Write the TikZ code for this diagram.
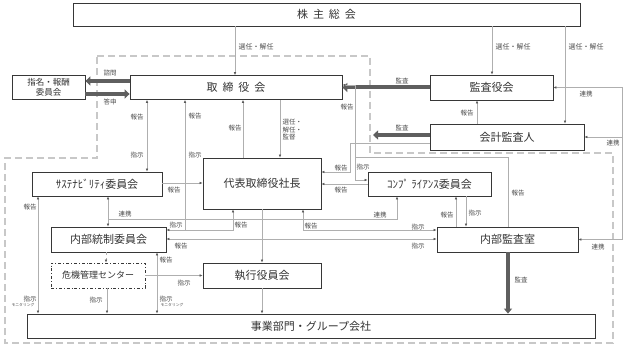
\documentclass[tikz,border=0pt]{standalone}
\usepackage{fontspec}
\setmainfont{Noto Sans CJK JP}
\usetikzlibrary{arrows.meta}
\definecolor{linegray}{RGB}{175,175,175}
\definecolor{framegray}{RGB}{200,200,200}
\definecolor{boxline}{RGB}{55,55,55}
\definecolor{thickgray}{RGB}{95,95,95}

\begin{document}
\begin{tikzpicture}[
    x=1pt, y=-1pt,
    >={Latex[length=3pt,width=2.6pt,color=black!65]},
    box/.style={
        draw=boxline,
        line width=0.8pt,
        fill=white,
        inner sep=0pt,
        align=center,
        text=black!80,
        font=\fontsize{11}{12}\selectfont
    },
    conn/.style={draw=linegray, line width=0.55pt},
    auditarrow/.style={
        draw=thickgray,
        line width=4pt,
        -{Triangle[length=5pt,width=9pt,color=thickgray]}
    },
    lbl/.style={inner sep=0.5pt, text=black!70, font=\fontsize{6.5}{7.5}\selectfont},
    tiny/.style={inner sep=0pt, text=black!70, font=\fontsize{3.8}{4.5}\selectfont}
]
\useasboundingbox (0,0) rectangle (624,347);

% Dashed frame
\draw[framegray, line width=2.6pt, dash pattern=on 7pt off 4pt]
    (97,56) -- (370,56) -- (370,153) -- (613,153) -- (613,343)
    -- (5,343) -- (5,158) -- (97,158) -- cycle;

% Boxes
\node[box, minimum width=507pt, minimum height=23pt] (share) at (326.5,14.5) {株\hspace{0.45em}主\hspace{0.45em}総\hspace{0.45em}会};
\node[box, minimum width=73pt, minimum height=24pt, font=\fontsize{8.5}{10}\selectfont] (nomination) at (48.5,87.5) {指名・報酬\\委員会};
\node[box, minimum width=212pt, minimum height=24pt] (board) at (236,87.5) {取\hspace{0.45em}締\hspace{0.45em}役\hspace{0.45em}会};
\node[box, minimum width=123pt, minimum height=25pt] (kansayaku) at (491.5,87.5) {監査役会};
\node[box, minimum width=154pt, minimum height=26pt] (kaikei) at (507,137) {会計監査人};
\node[box, minimum width=118pt, minimum height=51pt] (president) at (262,183.5) {代表取締役社長};
\node[box, minimum width=130pt, minimum height=24pt] (sustain) at (97,184) {ｻｽﾃﾅﾋﾞﾘﾃｨ委員会};
\node[box, minimum width=123pt, minimum height=24pt] (compliance) at (429.5,184) {ｺﾝﾌﾟ ﾗｲｱﾝｽ委員会};
\node[box, minimum width=115pt, minimum height=25pt] (naibu) at (108.5,239.5) {内部統制委員会};
\node[box, minimum width=94pt, minimum height=25pt, dash dot, font=\fontsize{9}{10}\selectfont] (crisis) at (98,275.5) {危機管理センター};
\node[box, minimum width=118pt, minimum height=25pt] (exec) at (262,275.5) {執行役員会};
\node[box, minimum width=141pt, minimum height=25pt] (audit) at (507.5,239.5) {内部監査室};
\node[box, minimum width=568pt, minimum height=24pt] (business) at (311,326) {事業部門・グループ会社};

% Junctions
\coordinate (kaikeitip) at (373,135);
\coordinate (renkei) at (108,219);
\coordinate (jn) at (185,230);

% Shareholders
\draw[conn,->] (share.south -| 235,0) -- (board.north -| 235,0);
\draw[conn,->] (share.south -| 492,0) -- (kansayaku.north -| 492,0);
\draw[conn,->] (share.south -| 565,0) -- (kaikei.north -| 565,0);
\node[lbl, font=\fontsize{7}{8}\selectfont] at (256,47) {選任・解任};
\node[lbl, font=\fontsize{7}{8}\selectfont] at (513,47) {選任・解任};
\node[lbl, font=\fontsize{7}{8}\selectfont] at (586,47) {選任・解任};

% Thick arrows
\draw[auditarrow] (board.west |- 0,81) -- (nomination.east |- 0,81);
\draw[auditarrow] (nomination.east |- 0,94) -- (board.west |- 0,94);
\draw[auditarrow] (kansayaku.west) -- (board.east |- kansayaku.west);
\draw[auditarrow] (kaikei.west |- kaikeitip) -- (kaikeitip);
\draw[auditarrow, -{Triangle[length=5pt,width=8pt,color=thickgray]}, line width=3.5pt] (audit.south -| 508,0) -- (business.north -| 508,0);
\node[lbl] at (110,73) {諮問};
\node[lbl] at (110,102) {答申};
\node[lbl] at (402,81) {監査};
\node[lbl] at (402,128) {監査};
\node[lbl] at (521,280) {監査};

% Board and president
\draw[conn,<->] (board.south -| 147,0) -- (sustain.north -| 147,0);
\draw[conn,->] (president.north -| 243,0) -- (board.south -| 243,0);
\draw[conn,->] (board.south -| 280,0) -- (president.north -| 280,0);
\draw[conn,<->] (board.south -| 185,0) -- (jn) -- (233,230) -- (president.south -| 233,0);
\draw[conn,->] (jn) -- (naibu.east |- jn);
\node[lbl] at (137,117) {報告};
\node[lbl] at (137,155) {指示};
\node[lbl] at (195,116) {報告};
\node[lbl] at (195,155) {指示};
\node[lbl] at (235,128) {報告};
\node[lbl, align=left, anchor=west] at (282,130) {選任・\\解任・\\監督};
\node[lbl] at (176,225) {指示};
\node[lbl] at (241,225) {報告};

% Right side
\draw[conn,<->] (board.east |- 0,85) -- (355,85) -- (355,180) -- (compliance.west |- 0,180);
\draw[conn] (audit.north -| 508,0) -- (508,157) -- (355,157);
\draw[conn,->] (kaikei.west |- 0,143) -- (350,143) -- (350,172) -- (president.east |- 0,172);
\draw[conn,->] (compliance.west |- 0,184) -- (president.east |- 0,184);
\draw[conn,->] (kaikei.north -| 477,0) -- (kansayaku.south -| 477,0);
\draw[conn,<->] (kansayaku.east) -- (kansayaku.east -| 622,0) |- (audit.east);
\draw[conn,->] (kaikei.east -| 622,0) -- (kaikei.east);
\node[lbl] at (347,107) {報告};
\node[lbl] at (363,167) {指示};
\node[lbl] at (341,168) {報告};
\node[lbl] at (341,190) {報告};
\node[lbl] at (518,193) {報告};
\node[lbl] at (467,113) {報告};
\node[lbl] at (586,94) {連携};
\node[lbl] at (613,143) {連携};
\node[lbl] at (598,247) {連携};

% Committees
\draw[conn,->] (sustain.east |- 0,183) -- (president.west |- 0,183);
\draw[conn,<->] (sustain.south -| renkei) -- (naibu.north -| renkei);
\draw[conn,->] (renkei) -- (397,219) -- (compliance.south -| 397,0);
\draw[conn,<->] (president.south -| 303,0) -- (303,230) -- (audit.west |- 0,230);
\draw[conn,<->] (naibu.east |- 0,239) -- (audit.west |- 0,239);
\draw[conn,->] (audit.north -| 456,0) -- (compliance.south -| 456,0);
\draw[conn,->] (compliance.south -| 466,0) -- (audit.north -| 466,0);
\node[lbl] at (174,190) {報告};
\node[lbl] at (125,214) {連携};
\node[lbl] at (380,215) {連携};
\node[lbl] at (311,226) {報告};
\node[lbl] at (418,227) {指示};
\node[lbl] at (181,246) {報告};
\node[lbl] at (418,246) {指示};
\node[lbl] at (447,215) {報告};
\node[lbl] at (475,213) {指示};

% Down to business units
\draw[conn,<->] (sustain.south -| 38,0) -- (business.north -| 38,0);
\draw[conn,->, dashed] (naibu.south -| 106,0) -- (crisis.north -| 106,0);
\draw[conn,->] (crisis.south -| 107,0) -- (business.north -| 107,0);
\draw[conn,->] (crisis.east) -- (exec.west);
\draw[conn,<->] (naibu.south -| 157,0) -- (business.north -| 157,0);
\draw[conn,->] (president.south -| 262,0) -- (exec.north -| 262,0);
\draw[conn,->] (exec.south -| 262,0) -- (business.north -| 262,0);
\node[lbl] at (30,207) {報告};
\node[lbl] at (30,299) {指示};
\node[tiny] at (23,305) {モニタリング};
\node[lbl] at (96,300) {指示};
\node[lbl] at (184,283) {指示};
\node[lbl] at (166,260) {報告};
\node[lbl] at (166,299) {指示};
\node[tiny] at (172,305) {モニタリング};

\end{tikzpicture}
\end{document}
